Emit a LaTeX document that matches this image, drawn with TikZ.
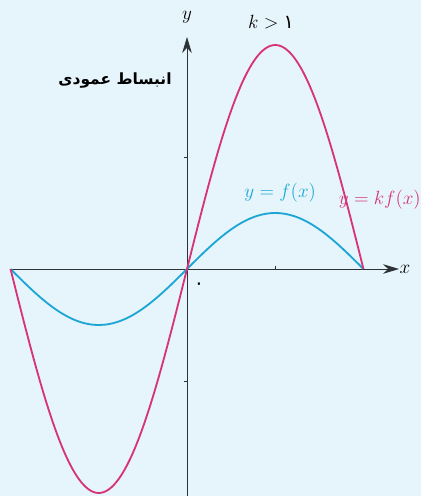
\RequirePackage{fix-cm}
\documentclass[tikz,border=0pt]{standalone}
\usepackage{fontspec}
\usepackage{tikz}
\usepackage{xcolor}
\usetikzlibrary{arrows.meta, positioning}
\TeXXeTstate=1
\newfontfamily\arabicfont[Script=Arabic]{DejaVu Sans}
\definecolor{cBack}{RGB}{230,244,251}
\definecolor{cAxis}{RGB}{45,50,55}
\definecolor{cStretch}{RGB}{214,51,120}
\definecolor{cBase}{RGB}{27,166,214}
\tikzset{
	axisline/.style ={cAxis, line width=0.6pt, -{Stealth[length=4mm, width=2.4mm]}},
	tickmark/.style ={cAxis, line width=0.5pt},
	curve/.style    ={line width=1.3pt, smooth, samples=80},
	lbl/.style      ={inner sep=1pt, font=\fontsize{13.6}{16}\selectfont},
}

\begin{document}
\begin{tikzpicture}[x=1.4045cm, y=2.8cm]
	\fill[cBack] (-4.675cm,-5.675cm) rectangle (5.85cm,6.725cm);
	\useasboundingbox (-4.675cm,-5.675cm) rectangle (5.85cm,6.725cm);
	% axes
	\draw[axisline] (-pi,0) -- (5.3cm,0) coordinate (xend);
	\draw[axisline] (0,-5.675cm) -- (0,5.8cm) coordinate (yend);
	\draw[tickmark] (pi/2,0) -- (pi/2,0.025);
	\draw[tickmark] (0,1) -- (-0.07cm,1);
	\draw[tickmark] (0,-1) -- (-0.07cm,-1);
	% curves
	\draw[curve, cBase] plot[domain=-pi:pi] (\x, {0.5*sin(\x r)});
	\draw[curve, cStretch] plot[domain=-pi:pi] (\x, {2*sin(\x r)});
	% labels
	\node[lbl] (xlab) at (5.45cm,0) {$x$};
	\node[lbl] (ylab) at (0,6.3cm) {$y$};
	\node[lbl] (zero) at (0.3cm,-0.42cm) {\arabicfont\beginR ٠\endR};
	\node[lbl] (cond) at (2.1cm,6.175cm) {$k>{}$\arabicfont\beginR ١\endR};
	\node[lbl, text=cStretch] (kf) at (4.82cm,1.725cm) {$y=kf(x)$};
	\node[lbl, text=cBase] (f) at (2.33cm,1.9cm) {$y=f(x)$};
	\node[lbl, font=\fontsize{11}{13}\selectfont] (title) at (-1.8cm,4.7cm) {\arabicfont\bfseries\beginR انبساط عمودی\endR};
\end{tikzpicture}
\end{document}
